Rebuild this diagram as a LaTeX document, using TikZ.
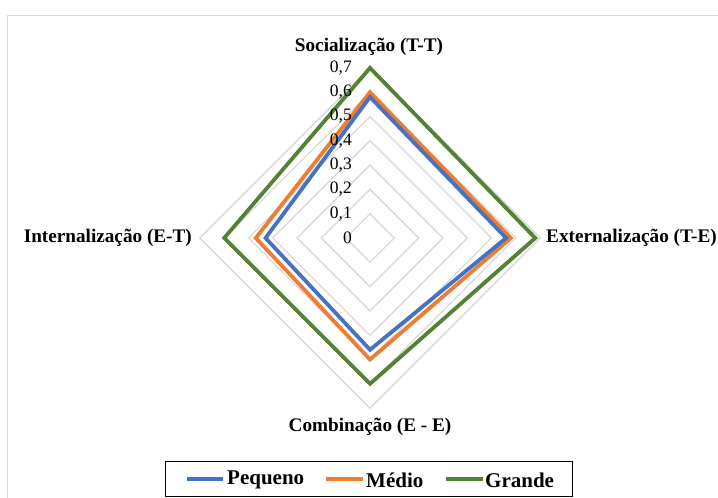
\documentclass[tikz,border=0pt]{standalone}
\usepackage{fontspec}
\setmainfont{Liberation Serif}
\definecolor{serBlue}{HTML}{4472C4}
\definecolor{serOrange}{HTML}{ED7D31}
\definecolor{serGreen}{HTML}{548235}
\definecolor{gridGray}{HTML}{D9D9D9}
\begin{document}
\begin{tikzpicture}[x=1pt,y=-1pt,
  gridline/.style={draw=gridGray,line width=1.3pt},
  series/.style={line width=3.8pt,line join=miter},
  axislabel/.style={font=\bfseries\fontsize{19.2}{21}\selectfont,inner sep=0pt},
  ticklabel/.style={font=\fontsize{17.5}{19}\selectfont,anchor=east,inner sep=0pt},
  legendtext/.style={font=\bfseries\fontsize{21}{23}\selectfont,anchor=west,inner sep=0pt}]
\useasboundingbox (0,0) rectangle (718,498);
% chart frame
\draw[draw=gridGray,line width=1.5pt] (7.5,505) -- (7.5,15.5) -- (725,15.5);
% radar geometry: centre and pixels per 0.1
\def\cx{370}\def\cy{238}\def\u{24.3}
\coordinate (O) at (\cx,\cy);
% grid diamonds
\foreach \k in {1,...,7}{
  \draw[gridline] (\cx,\cy-\k*\u) -- (\cx+\k*\u,\cy) -- (\cx,\cy+\k*\u) -- (\cx-\k*\u,\cy) -- cycle;
}
% data series: top, right, bottom, left
\newcommand{\radar}[5]{%
  \draw[series,draw=#1] (\cx,\cy-#2*10*\u) -- (\cx+#3*10*\u,\cy) -- (\cx,\cy+#4*10*\u) -- (\cx-#5*10*\u,\cy) -- cycle;}
\radar{serGreen}{0.70}{0.68}{0.60}{0.60}
\radar{serOrange}{0.60}{0.58}{0.50}{0.47}
\radar{serBlue}{0.58}{0.56}{0.46}{0.43}
% tick labels
\foreach \k/\t in {0/0,1/{0,1},2/{0,2},3/{0,3},4/{0,4},5/{0,5},6/{0,6},7/{0,7}}{
  \node[ticklabel] (t\k) at (352,\cy-\k*\u) {\t};
}
% axis labels
\node[axislabel] (soc) at (369,47) {Socialização (T-T)};
\node[axislabel,anchor=west] (ext) at (546,238) {Externalização (T-E)};
\node[axislabel,anchor=east] (int) at (192,238) {Internalização (E-T)};
\node[axislabel] (comb) at (370,427) {Combinação (E - E)};
% legend
\node[draw=black,line width=1pt,minimum width=407pt,minimum height=35pt,inner sep=0pt] (legend) at (368.5,478.5) {};
\coordinate (lb1) at (187,479); \coordinate (lb2) at (223,479);
\coordinate (lo1) at (326,479); \coordinate (lo2) at (363,479);
\coordinate (lg1) at (446,479); \coordinate (lg2) at (483,479);
\draw[serBlue,line width=3.8pt] (lb1) -- (lb2);
\draw[serOrange,line width=3.8pt] (lo1) -- (lo2);
\draw[serGreen,line width=3.8pt] (lg1) -- (lg2);
\node[legendtext] (lpeq) at (227,480) {Pequeno};
\node[legendtext] (lmed) at (366,480) {Médio};
\node[legendtext] (lgra) at (485,480) {Grande};
\end{tikzpicture}
\end{document}
